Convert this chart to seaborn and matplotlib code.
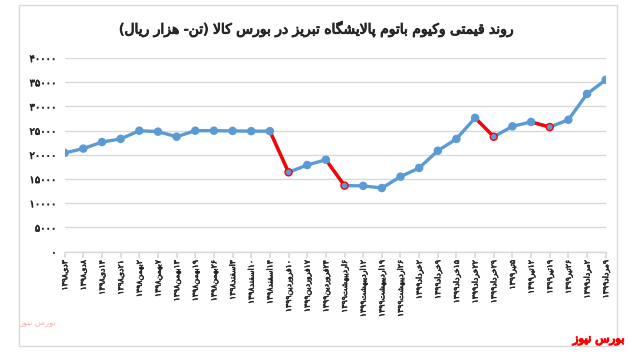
import numpy as np
import pandas as pd
import seaborn as sns
import matplotlib
matplotlib.use("Agg")
import matplotlib.pyplot as plt
import matplotlib.patheffects as pe
from matplotlib.patches import Rectangle

# ---------------- data ----------------
title = "روند قیمتی وکیوم باتوم پالایشگاه تبریز در بورس کالا (تن- هزار ریال)"
dates = ["۳دی۱۳۹۸", "۸دی۱۳۹۸", "۱۴دی۱۳۹۸", "۲۱دی۱۳۹۸", "۲بهمن۱۳۹۸",
         "۷بهمن۱۳۹۸", "۱۳بهمن۱۳۹۸", "۱۹بهمن۱۳۹۸", "۲۶بهمن۱۳۹۸", "۴اسفند۱۳۹۸",
         "۱۰اسفند۱۳۹۸", "۱۴اسفند۱۳۹۸", "۱۰فروردین۱۳۹۹", "۱۷فروردین۱۳۹۹",
         "۲۴فروردین۱۳۹۹", "۶اردیبهشت۱۳۹۹", "۱۲اردیبهشت۱۳۹۹", "۱۹اردیبهشت۱۳۹۹",
         "۲۶اردیبهشت۱۳۹۹", "۲خرداد۱۳۹۹", "۹خرداد۱۳۹۹", "۱۵خرداد۱۳۹۹",
         "۲۲خرداد۱۳۹۹", "۲۹خرداد۱۳۹۹", "۵تیر۱۳۹۹", "۱۲تیر۱۳۹۹", "۱۹تیر۱۳۹۹",
         "۲۶تیر۱۳۹۹", "۲مرداد۱۳۹۹", "۹مرداد۱۳۹۹"]
price = [20400, 21300, 22650, 23300, 25000, 24800, 23750, 25000, 25000, 24950,
         24900, 24900, 16400, 17900, 19000, 13650, 13600, 13150, 15500, 17300,
         20850, 23300, 27650, 23750, 25900, 26800, 25750, 27250, 32600, 35500]
# index of the last point of each falling (red) segment
drop_ends = [12, 15, 23, 26]
yticks = [0, 5000, 10000, 15000, 20000, 25000, 30000, 35000, 40000]
source = "بورس نیوز"

# ---------------- persian text helpers ----------------
FORMS = {
    "ا": ("\uFE8D", "\uFE8E", None, None),
    "ب": ("\uFE8F", "\uFE90", "\uFE91", "\uFE92"),
    "پ": ("\uFB56", "\uFB57", "\uFB58", "\uFB59"),
    "ت": ("\uFE95", "\uFE96", "\uFE97", "\uFE98"),
    "خ": ("\uFEA5", "\uFEA6", "\uFEA7", "\uFEA8"),
    "د": ("\uFEA9", "\uFEAA", None, None),
    "ر": ("\uFEAD", "\uFEAE", None, None),
    "ز": ("\uFEAF", "\uFEB0", None, None),
    "س": ("\uFEB1", "\uFEB2", "\uFEB3", "\uFEB4"),
    "ش": ("\uFEB5", "\uFEB6", "\uFEB7", "\uFEB8"),
    "ف": ("\uFED1", "\uFED2", "\uFED3", "\uFED4"),
    "ق": ("\uFED5", "\uFED6", "\uFED7", "\uFED8"),
    "ک": ("\uFB8E", "\uFB8F", "\uFB90", "\uFB91"),
    "گ": ("\uFB92", "\uFB93", "\uFB94", "\uFB95"),
    "ل": ("\uFEDD", "\uFEDE", "\uFEDF", "\uFEE0"),
    "م": ("\uFEE1", "\uFEE2", "\uFEE3", "\uFEE4"),
    "ن": ("\uFEE5", "\uFEE6", "\uFEE7", "\uFEE8"),
    "ه": ("\uFEE9", "\uFEEA", "\uFEEB", "\uFEEC"),
    "و": ("\uFEED", "\uFEEE", None, None),
    "ی": ("\uFBFC", "\uFBFD", "\uFBFE", "\uFBFF"),
}
DIGITS = set("۰۱۲۳۴۵۶۷۸۹0123456789")
MIRROR = {"(": ")", ")": "("}


def fa(s):
    # contextual shaping
    out = []
    i, n = 0, len(s)
    while i < n:
        c = s[i]
        if c not in FORMS:
            out.append(c)
            i += 1
            continue
        prev = s[i - 1] if i > 0 else None
        jp = prev in FORMS and FORMS[prev][2] is not None
        if c == "ل" and i + 1 < n and s[i + 1] == "ا":
            out.append("\uFEFC" if jp else "\uFEFB")
            i += 2
            continue
        nxt = s[i + 1] if i + 1 < n else None
        iso, fin, ini, med = FORMS[c]
        jn = ini is not None and nxt in FORMS
        if jp and jn:
            out.append(med)
        elif jp:
            out.append(fin)
        elif jn:
            out.append(ini)
        else:
            out.append(iso)
        i += 1
    # visual order: reverse, keep digit runs left-to-right
    tokens = []
    for ch in out:
        if ch in DIGITS and tokens and tokens[-1][0] in DIGITS:
            tokens[-1] += ch
        else:
            tokens.append(ch)
    return "".join(MIRROR.get(t, t) for t in reversed(tokens))


def fa_num(v):
    return "".join("۰۱۲۳۴۵۶۷۸۹"[int(d)] for d in str(v))


def heavy(color, w=0.6):
    # fake bold: the bold DejaVu face lacks some arabic forms
    return [pe.withStroke(linewidth=w, foreground=color)]


# ---------------- plot ----------------
sns.set_theme(style="white")
plt.rcParams["font.family"] = ["DejaVu Sans"]

blue = "#5B9BD5"
red = "#FF0000"
txt = "#262626"

df = pd.DataFrame({"x": np.arange(len(price)), "price": price})
seg_rows = []
for k, e in enumerate(drop_ends):
    seg_rows.append({"seg": k, "x": e - 1, "price": price[e - 1]})
    seg_rows.append({"seg": k, "x": e, "price": price[e]})
red_df = pd.DataFrame(seg_rows)

fig = plt.figure(figsize=(6.28, 3.53), dpi=100)
ax = fig.add_axes([0.103, 0.287, 0.8615, 0.5485])

sns.lineplot(data=df, x="x", y="price", color=blue, linewidth=2.4, ax=ax,
             solid_capstyle="round")
sns.lineplot(data=red_df, x="x", y="price", units="seg", estimator=None,
             color=red, linewidth=2.4, ax=ax, solid_capstyle="round")
edge = [red if i in drop_ends else blue for i in range(len(price))]
sns.scatterplot(data=df, x="x", y="price", color=blue, edgecolor=edge,
                linewidth=1.0, s=26, zorder=5, ax=ax)

ax.set_xlim(0, len(price) - 1)
ax.set_ylim(0, 40000)
ax.set_yticks(yticks)
ax.set_yticklabels([fa_num(v) for v in yticks], fontsize=7.2, color=txt,
                   path_effects=heavy(txt, 0.5))
ax.set_xticks(range(len(dates)))
ax.set_xticklabels([fa(d) for d in dates], rotation=90, fontsize=5.6,
                   color=txt, path_effects=heavy(txt, 0.4))
ax.set_xlabel("")
ax.set_ylabel("")
ax.grid(axis="y", color="#D9D9D9", linewidth=1)
ax.set_axisbelow(True)
for sp in ["top", "right", "left"]:
    ax.spines[sp].set_visible(False)
ax.spines["bottom"].set_color("#D9D9D9")
ax.spines["bottom"].set_linewidth(1)
ax.tick_params(axis="x", direction="out", length=4, color="#D9D9D9",
               bottom=True, pad=2)
ax.tick_params(axis="y", length=0, pad=6)

fig.text(0.505, 0.918, fa(title), ha="center", va="center", fontsize=10,
         color=txt, path_effects=heavy(txt, 0.7))
fig.text(0.995, 0.04, fa(source), ha="right", va="center", fontsize=8.5,
         color=red, path_effects=heavy(red, 0.9))
fig.text(0.06, 0.085, fa(source), ha="center", va="center", fontsize=6,
         color="#E8A0A0", alpha=0.8)

fig.patches.append(Rectangle((19 / 628, 1 - 346 / 353), 598 / 628, 341 / 353,
                             transform=fig.transFigure, fill=False,
                             edgecolor="#D9D9D9", linewidth=1))

fig.savefig("out.png", dpi=100)
